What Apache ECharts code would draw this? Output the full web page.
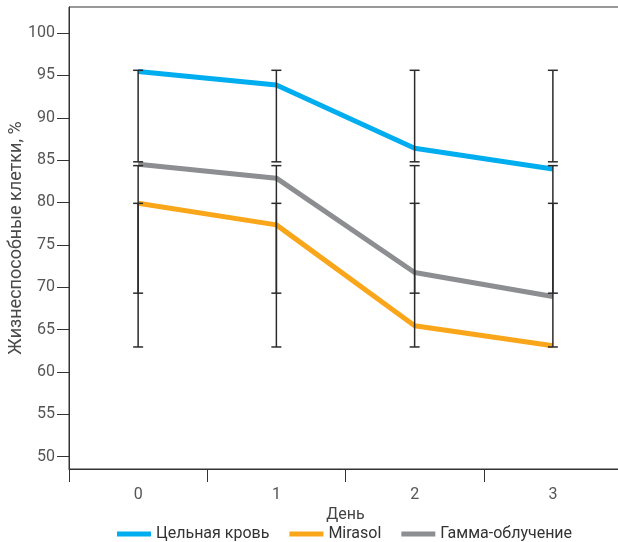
<!DOCTYPE html>
<html><head><meta charset="utf-8">
<script src="https://cdn.jsdelivr.net/npm/echarts@6/dist/echarts.min.js"></script>
<style>html,body{margin:0;padding:0;background:#fff}#c{width:618px;height:542px}</style>
</head><body><div id="c"></div>
<script>
const days = ['0','1','2','3'];
const seriesNames = ['Цельная кровь','Mirasol','Гамма-облучение'];
const wholeBlood = [95.45, 93.87, 86.4, 83.96];
const mirasol = [79.92, 77.36, 65.45, 63.1];
const gamma = [84.5, 82.87, 71.74, 68.9];
// error bar ranges [low, high] per series, per day
const wholeBloodErr = [[84.8,95.6],[84.8,95.6],[84.8,95.6],[84.8,95.6]];
const mirasolErr = [[62.95,79.9],[62.95,79.9],[62.95,79.9],[62.95,79.9]];
const gammaErr = [[69.3,84.35],[69.3,84.35],[69.3,84.35],[69.3,84.35]];
const yTicks = [50,55,60,65,70,75,80,85,90,95,100];
const colors = ['#00AEEF','#F9A61A','#8D8E91'];

const chart = echarts.init(document.getElementById('c'));
const FONT = 'Roboto';
function errData(arr){ return arr.map((r,i)=>[i, r[0], r[1]]); }
function errSeries(name, arr){
  return {
    type:'custom', name: name+' err', z:10, silent:true,
    data: errData(arr),
    renderItem: function(params, api){
      const x = api.value(0);
      const lo = api.coord([x, api.value(1)]);
      const hi = api.coord([x, api.value(2)]);
      const w = 5;
      const st = {stroke:'#2b2b2b', lineWidth:1.5};
      return {type:'group', children:[
        {type:'line', shape:{x1:lo[0],y1:lo[1],x2:hi[0],y2:hi[1]}, style:st},
        {type:'line', shape:{x1:lo[0]-w,y1:lo[1],x2:lo[0]+w,y2:lo[1]}, style:st},
        {type:'line', shape:{x1:hi[0]-w,y1:hi[1],x2:hi[0]+w,y2:hi[1]}, style:st}
      ]};
    },
    encode:{x:0, y:[1,2]}
  };
}
function lineSeries(name, data, color){
  return {type:'line', name:name, data:data, symbol:'none', z:5,
    lineStyle:{color:color, width:5}, itemStyle:{color:color}};
}
chart.setOption({
  animation:false,
  textStyle:{fontFamily:FONT},
  grid:{left:69, top:7, width:553, bottom:73, show:true, borderColor:'#333', borderWidth:1,
        containLabel:false, outerBoundsMode:'none'},
  legend:{
    top:521, left:112, icon:'rect', itemWidth:34, itemHeight:5, itemGap:20,
    textStyle:{fontFamily:FONT, fontSize:16, color:'#333'},
    data: seriesNames
  },
  xAxis:{
    type:'category', data:days, boundaryGap:true,
    name:'День', nameLocation:'middle', nameGap:38, nameMoveOverlap:false,
    nameTextStyle:{fontFamily:FONT, fontSize:16, color:'#444'},
    axisLine:{lineStyle:{color:'#333', width:1}},
    axisTick:{show:true, length:13, alignWithLabel:false, lineStyle:{color:'#333'}},
    axisLabel:{fontFamily:FONT, fontSize:16, color:'#555', margin:18}
  },
  yAxis:{
    type:'value', min:48.55, max:103.07,
    name:'Жизнеспособные клетки, %', nameLocation:'middle', nameGap:44, nameMoveOverlap:false,
    nameTextStyle:{fontFamily:FONT, fontSize:18, color:'#4a4a4a'},
    axisLine:{show:true, lineStyle:{color:'#333', width:1}},
    axisTick:{show:true, length:12, customValues:yTicks, lineStyle:{color:'#333'}},
    axisLabel:{fontFamily:FONT, fontSize:16, color:'#555', margin:14, customValues:yTicks},
    splitLine:{show:false}
  },
  series:[
    lineSeries(seriesNames[0], wholeBlood, colors[0]),
    lineSeries(seriesNames[1], mirasol, colors[1]),
    lineSeries(seriesNames[2], gamma, colors[2]),
    errSeries(seriesNames[0], wholeBloodErr),
    errSeries(seriesNames[1], mirasolErr),
    errSeries(seriesNames[2], gammaErr)
  ]
});
</script></body></html>
